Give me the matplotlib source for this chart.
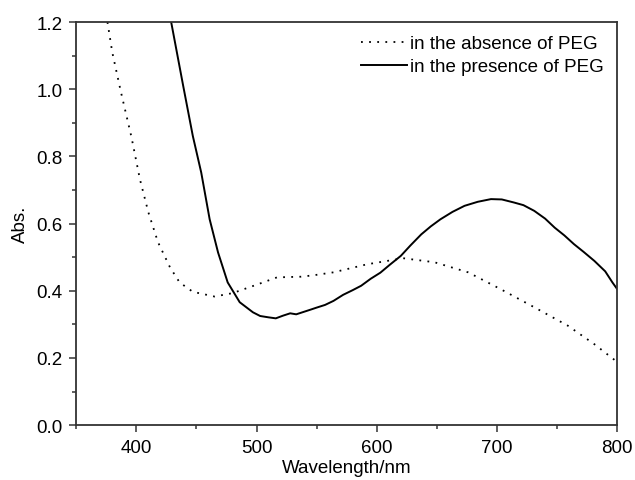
import numpy as np
import matplotlib
matplotlib.use("Agg")
import matplotlib.pyplot as plt
from matplotlib.ticker import MultipleLocator, FormatStrFormatter

plt.rcParams['font.family'] = ['Liberation Sans', 'DejaVu Sans']

# absorbance without PEG (dotted)
wl_abs = [376, 380, 387, 396, 403, 410, 418, 428, 436, 447, 465, 480, 500, 517, 537,
          547, 564, 592, 622, 648, 676, 703, 731, 759, 781, 800]
abs_abs = [1.20, 1.11, 0.995, 0.857, 0.732, 0.634, 0.545, 0.47, 0.425, 0.397, 0.383,
           0.393, 0.418, 0.44, 0.442, 0.446, 0.455, 0.479, 0.497, 0.485, 0.455,
           0.405, 0.351, 0.296, 0.241, 0.188]

# absorbance with PEG (solid)
wl_pres = [429, 439, 447, 454, 461, 468, 476, 486, 497, 503, 510, 516, 522, 528, 533,
           539, 545, 550, 557, 564, 572, 580, 587, 595, 603, 611, 620, 628, 637,
           645, 653, 663, 673, 684, 695, 704, 714, 722, 731, 740, 748, 756, 764,
           772, 781, 790, 796, 800]
abs_pres = [1.20, 1.01, 0.861, 0.752, 0.613, 0.514, 0.425, 0.366, 0.336, 0.325, 0.321,
            0.318, 0.326, 0.333, 0.330, 0.337, 0.344, 0.350, 0.358, 0.370, 0.388,
            0.402, 0.415, 0.436, 0.454, 0.478, 0.504, 0.535, 0.568, 0.592, 0.613,
            0.635, 0.653, 0.665, 0.673, 0.672, 0.663, 0.655, 0.638, 0.615, 0.588,
            0.565, 0.539, 0.516, 0.489, 0.458, 0.425, 0.405]

fig = plt.figure(figsize=(6.35, 4.81), dpi=100)
ax = fig.add_axes([0.12, 0.114, 0.852, 0.838])

ax.plot(wl_abs, abs_abs, color='black', lw=1.3, linestyle=(0, (1, 3.5)),
        label='in the absence of PEG')
ax.plot(wl_pres, abs_pres, color='black', lw=1.4, label='in the presence of PEG')

ax.set_xlim(350, 800)
ax.set_ylim(0, 1.2)
ax.xaxis.set_major_locator(MultipleLocator(100))
ax.xaxis.set_minor_locator(MultipleLocator(50))
ax.yaxis.set_major_locator(MultipleLocator(0.2))
ax.yaxis.set_minor_locator(MultipleLocator(0.1))
ax.yaxis.set_major_formatter(FormatStrFormatter('%.1f'))
ax.tick_params(which='both', direction='out', top=False, right=False,
               labelsize=13.5, color='#333333')
ax.tick_params(which='major', length=5, width=1.1, pad=5)
ax.tick_params(which='minor', length=3, width=1.1)
for s in ax.spines.values():
    s.set_linewidth(1.3)
    s.set_color('#333333')

ax.set_xlabel('Wavelength/nm', fontsize=13.5, labelpad=2)
ax.set_ylabel('Abs.', fontsize=13.5, labelpad=5)

ax.legend(loc='upper right', frameon=False, fontsize=13.5, handlelength=2.45,
          handletextpad=0.2, borderaxespad=0.3, borderpad=0.4, labelspacing=0.3)

fig.savefig('out.png', dpi=100)
